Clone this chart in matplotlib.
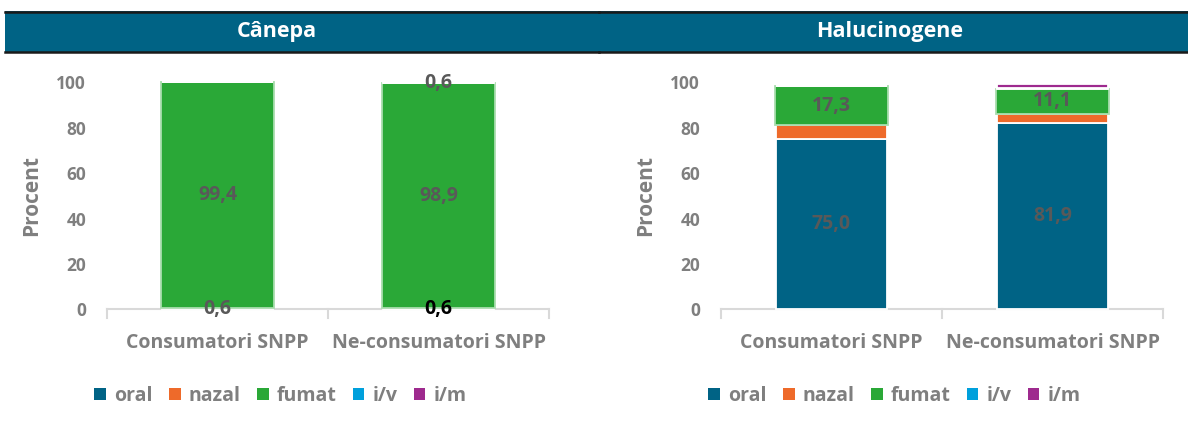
import matplotlib
matplotlib.use("Agg")
import matplotlib.pyplot as plt
from matplotlib.patches import Rectangle, Patch
import numpy as np

plt.rcParams['font.family'] = ['Open Sans', 'DejaVu Sans']

categories = ["Consumatori SNPP", "Ne-consumatori SNPP"]
series_names = ["oral", "nazal", "fumat", "i/v", "i/m"]
colors = ["#006385", "#EE6A2A", "#2AA837", "#00A0DC", "#9E2A8E"]

# Cânepa
canepa_oral = [0.6, 0.0]
canepa_nazal = [0.0, 0.6]
canepa_fumat = [99.4, 98.9]
canepa_iv = [0.0, 0.0]
canepa_im = [0.0, 0.6]

# Halucinogene
haluc_oral = [75.0, 81.9]
haluc_nazal = [6.0, 4.2]
haluc_fumat = [17.3, 11.1]
haluc_iv = [0.0, 0.5]
haluc_im = [0.0, 1.5]

# which segments carry a data label: (series index, category index, color)
canepa_labels = [(0, 0, "#595959"), (2, 0, "#595959"), (1, 1, "#000000"),
                 (2, 1, "#595959"), (4, 1, "#595959")]
haluc_labels = [(0, 0, "#595959"), (2, 0, "#595959"),
                (0, 1, "#595959"), (2, 1, "#595959")]

titles = ["Cânepa", "Halucinogene"]

W, H = 1188, 430
fig = plt.figure(figsize=(W / 100, H / 100), dpi=100)

GREY = "#7F7F7F"
BAND = "#006385"


def fx(px):
    return px / W


def fy(py):
    return 1 - py / H


def draw_panel(ax, data, labels):
    x = np.arange(len(categories))
    bottom = np.zeros(len(categories))
    for i, vals in enumerate(data):
        vals = np.array(vals, dtype=float)
        ec = "#A9DDAE" if i == 2 else "#FFFFFF"
        w = 0.515 if i == 2 else 0.5
        ax.bar(x, vals, width=w, bottom=bottom, color=colors[i],
               edgecolor=ec, linewidth=1.3, clip_on=False, zorder=3)
        for (si, ci, col) in labels:
            if si == i:
                yc = bottom[ci] + vals[ci] / 2
                ax.text(x[ci], yc, f"{vals[ci]:.1f}".replace(".", ","),
                        ha="center", va="center", fontsize=14,
                        fontweight="bold", color=col, zorder=5)
        bottom += vals
    ax.set_xlim(-0.5, len(categories) - 0.5)
    ax.set_ylim(0, 100)
    ax.set_yticks([0, 20, 40, 60, 80, 100])
    ax.set_xticks(x)
    ax.set_xticklabels(categories, fontsize=14, fontweight="bold", color=GREY)
    ax.tick_params(axis="x", length=0, pad=17)
    ax.tick_params(axis="y", length=0, pad=15, labelsize=12.5, labelcolor=GREY)
    for lab in ax.get_yticklabels():
        lab.set_fontweight("bold")
    for s in ["top", "right", "left"]:
        ax.spines[s].set_visible(False)
    ax.spines["bottom"].set_color("#D9D9D9")
    ax.spines["bottom"].set_linewidth(1.5)
    for xb in [-0.5, 0.5, 1.5]:
        ax.plot([xb, xb], [0, -4], color="#D9D9D9", lw=1.5, clip_on=False,
                zorder=1)
    ax.set_ylabel("Procent", fontsize=15, fontweight="bold", color=GREY,
                  labelpad=10)
    handles = [Patch(facecolor=c, edgecolor="none") for c in colors]
    leg = ax.legend(handles, series_names, loc="center left",
                    bbox_to_anchor=(-0.068, -0.38), ncol=5, frameon=False,
                    handlelength=0.6, handleheight=0.6, handletextpad=0.4,
                    columnspacing=0.85, prop={"size": 14, "weight": "bold"})
    for t in leg.get_texts():
        t.set_color(GREY)


ax_bottom = fy(309.3)
ax_h = (309.3 - 82.3) / H

ax1 = fig.add_axes([fx(107), ax_bottom, fx(549 - 107), ax_h])
draw_panel(ax1, [canepa_oral, canepa_nazal, canepa_fumat, canepa_iv, canepa_im],
           canepa_labels)
ax2 = fig.add_axes([fx(721), ax_bottom, fx(1163 - 721), ax_h])
draw_panel(ax2, [haluc_oral, haluc_nazal, haluc_fumat, haluc_iv, haluc_im],
           haluc_labels)

# title bands
for (x0, x1, tx, title) in [(5, 599, 277, titles[0]), (599, 1188, 890, titles[1])]:
    fig.patches.append(Rectangle((fx(x0), fy(52)), fx(x1 - x0), (52 - 11) / H,
                                 transform=fig.transFigure, facecolor=BAND,
                                 edgecolor="none", zorder=0))
    for yy in [11.5, 51.5]:
        fig.add_artist(plt.Line2D([fx(x0), fx(x1)], [fy(yy), fy(yy)],
                                  transform=fig.transFigure, color="#1A1A1A",
                                  lw=1.8))
    fig.text(fx(tx), fy(31.5), title, ha="center", va="center", color="white",
             fontsize=15.5, fontweight="bold")

fig.savefig("out.png", dpi=100)
